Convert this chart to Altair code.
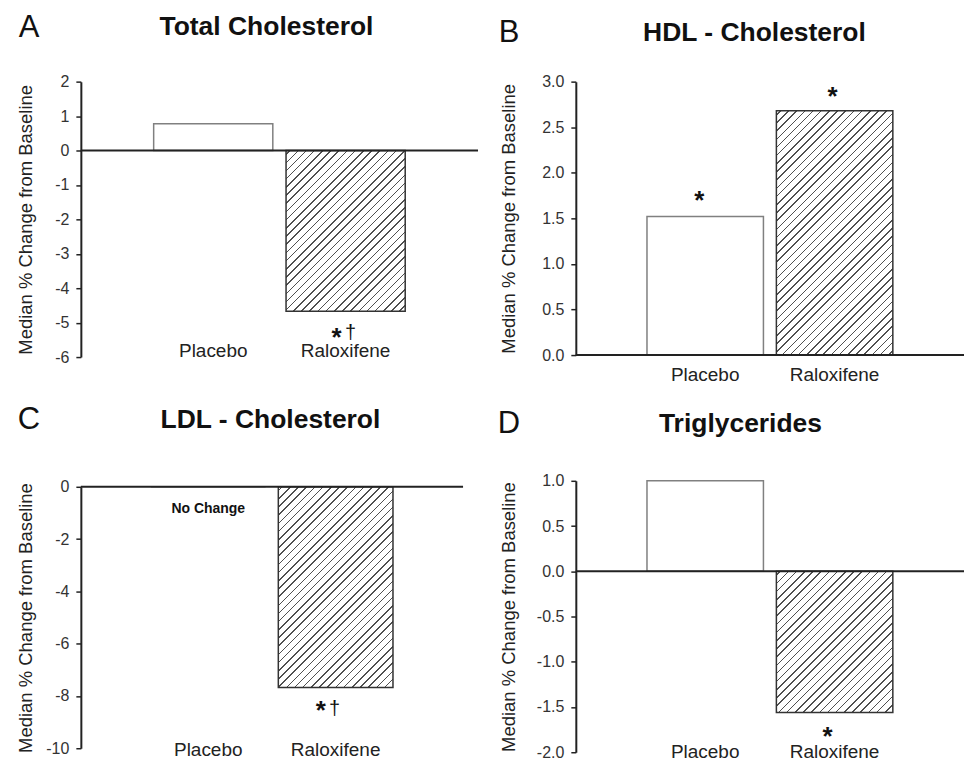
import math
import altair as alt
import pandas as pd

# ---------------- data ----------------
categories = ["Placebo", "Raloxifene"]
total_chol = [0.78, -4.67]
hdl_chol = [1.52, 2.68]
ldl_chol = [0.0, -7.68]
triglycerides = [1.00, -1.56]

panel_letters = ["A", "B", "C", "D"]
panel_titles = ["Total Cholesterol", "HDL - Cholesterol", "LDL - Cholesterol", "Triglycerides"]
y_domains = [[-6, 2], [0, 3], [-10, 0], [-2, 1]]
y_ticks = [
    [-6, -5, -4, -3, -2, -1, 0, 1, 2],
    [0.0, 0.5, 1.0, 1.5, 2.0, 2.5, 3.0],
    [-10, -8, -6, -4, -2, 0],
    [-2.0, -1.5, -1.0, -0.5, 0.0, 0.5, 1.0],
]
y_formats = ["d", ".1f", "d", ".1f"]
y_title = "Median % Change from Baseline"

# significance marks / notes: (group, text)
annot_A = [("Raloxifene", "*"), ("Raloxifene", "†")]
annot_B = [("Placebo", "*"), ("Raloxifene", "*")]
annot_C = [("Placebo", "No Change"), ("Raloxifene", "*"), ("Raloxifene", "†")]
annot_D = [("Raloxifene", "*")]

# ---------------- styling ----------------
FONT = "Liberation Sans"
PI, PO = 0.1, 0.55


def hatch_gradient(W, H, spacing=5.8, lw=1.1, color="#505050"):
    k = (W + H) / (W * W + H * H)
    x2, y2 = W * k, H * k
    D = (W + H) / math.sqrt(2)
    s = spacing / D
    w = lw / D
    stops = [alt.GradientStop(color="white", offset=0)]
    c = s / 2
    while c + w / 2 < 1:
        a, b = c - w / 2, c + w / 2
        stops += [
            alt.GradientStop(color="white", offset=a),
            alt.GradientStop(color=color, offset=a),
            alt.GradientStop(color=color, offset=b),
            alt.GradientStop(color="white", offset=b),
        ]
        c += s
    stops.append(alt.GradientStop(color="white", offset=1))
    return alt.LinearGradient(gradient="linear", stops=stops, x1=0, y1=0, x2=x2, y2=y2)


def annot_style(panel_idx, group, text):
    if text == "No Change":
        return dict(fontSize=14, fontWeight="bold", dx=0, dy=26)
    if text == "†":
        dx = {0: 5, 2: -1}[panel_idx]
        dy = {0: 28, 2: 27}[panel_idx]
        return dict(fontSize=20, fontWeight="normal", dx=dx, dy=dy)
    # asterisk
    if panel_idx == 1:
        return dict(fontSize=26, fontWeight="bold",
                    dx=-6 if group == "Placebo" else -2,
                    dy=-7.5 if group == "Placebo" else -5.5)
    dx = {0: -9, 2: -15, 3: -7}[panel_idx]
    dy = {0: 34.5, 2: 31.5, 3: 32.5}[panel_idx]
    return dict(fontSize=26, fontWeight="bold", dx=dx, dy=dy)


def panel(idx, values, annots, w, h, ext, tpad, lab_pad, title_xy, letter_xy):
    dom = y_domains[idx]
    df = pd.DataFrame({"group": categories, "value": values})
    xenc = alt.X(
        "group:N", sort=categories,
        scale=alt.Scale(paddingInner=PI, paddingOuter=PO),
        axis=alt.Axis(title=None, domain=False, ticks=False, tickSize=0, labelAngle=0,
                      labelPadding=lab_pad, labelFontSize=19, labelColor="#222",
                      labelFont=FONT),
    )
    yenc = alt.Y(
        "value:Q",
        scale=alt.Scale(domain=dom, nice=False, zero=False),
        axis=alt.Axis(values=y_ticks[idx], format=y_formats[idx], title=y_title,
                      labelExpr="replace(datum.label, '\u2212', '-')",
                      grid=False, minExtent=ext, maxExtent=ext, titlePadding=tpad),
    )
    base = alt.Chart(df)
    W = w / (2 - PI + 2 * PO) * (1 - PI)
    H = abs(values[1]) * h / (dom[1] - dom[0])
    bar_p = base.transform_filter(alt.datum.group == categories[0]).mark_bar(
        fill="white", stroke="#808080", strokeWidth=1.5
    ).encode(x=xenc, y=yenc)
    bar_r = base.transform_filter(alt.datum.group == categories[1]).mark_bar(
        fill=hatch_gradient(W, H), stroke="#333333", strokeWidth=1.5
    ).encode(x=xenc, y=yenc)
    zero = alt.Chart(pd.DataFrame({"value": [0]})).mark_rule(
        color="#222", strokeWidth=2).encode(y=yenc)

    vals = dict(zip(categories, values))
    layers = [bar_p, bar_r, zero]
    for g, t in annots:
        st = annot_style(idx, g, t)
        adf = pd.DataFrame({"group": [g], "value": [vals[g]], "label": [t]})
        layers.append(
            alt.Chart(adf).mark_text(baseline="alphabetic", align="center", font=FONT,
                                     color="#111", **st)
            .encode(x=xenc, y=yenc, text="label:N")
        )
    ldf = pd.DataFrame({"letter": [panel_letters[idx]], "title": [panel_titles[idx]]})
    layers.append(
        alt.Chart(ldf).mark_text(fontSize=31, font=FONT, color="#111", align="center",
                                 baseline="middle")
        .encode(x=alt.value(letter_xy[0]), y=alt.value(letter_xy[1]), text="letter:N")
    )
    layers.append(
        alt.Chart(ldf).mark_text(fontSize=26.5, fontWeight="bold", font=FONT, color="#111",
                                 align="center", baseline="middle")
        .encode(x=alt.value(title_xy[0]), y=alt.value(title_xy[1]), text="title:N")
    )
    return alt.layer(*layers).properties(width=w, height=h)


A = panel(0, total_chol, annot_A, 398, 276, 32, 13.75, -16, (186, -55), (-52, -54))
B = panel(1, hdl_chol, annot_B, 389, 274, 38, 19.75, 10, (179, -49), (-67, -49))
C = panel(2, ldl_chol, annot_C, 383, 262, 32, 13.75, -7.5, (190, -67), (-52, -67))
D = panel(3, triglycerides, annot_D, 389, 272, 38, 19.75, -9.5, (165, -57), (-67, -57))

chart = (
    alt.hconcat(alt.vconcat(A, C, spacing=39), alt.vconcat(B, D, spacing=24), spacing=18)
    .properties(padding={"left": 8, "top": 3, "right": 0, "bottom": 0})
    .configure_view(strokeWidth=0)
    .configure_axis(labelFont=FONT, titleFont=FONT, labelFontSize=16, labelColor="#333",
                    titleFontSize=18.5, titleFontWeight="normal", titleColor="#222",
                    domainColor="#222", domainWidth=2, tickColor="#222", tickWidth=1.5,
                    tickSize=5, labelPadding=7)
)

chart.save("out.html", embed_options={"renderer": "svg", "actions": False})
